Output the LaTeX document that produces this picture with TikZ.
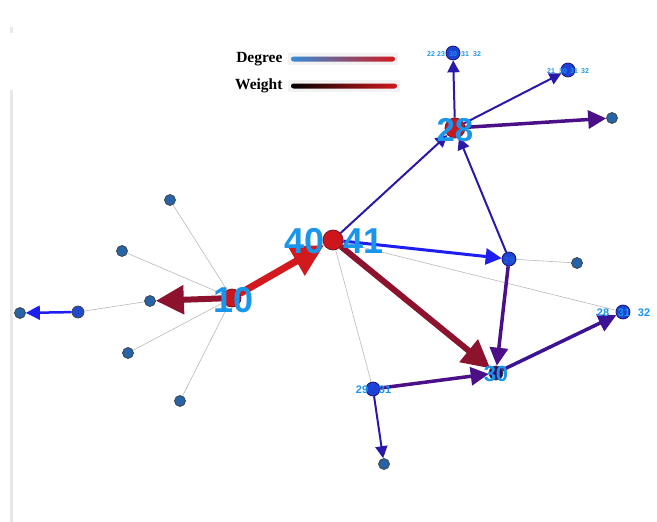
\documentclass[tikz,border=0pt]{standalone}
\usepackage{fontspec}
\setmainfont{Liberation Serif}
\setsansfont{Liberation Sans}
\usetikzlibrary{arrows.meta,backgrounds}

\definecolor{lblblue}{RGB}{25,150,235}
\definecolor{hubred}{RGB}{205,22,28}
\definecolor{edgered}{RGB}{210,25,30}
\definecolor{darkred}{RGB}{140,18,45}
\definecolor{purp}{RGB}{75,15,135}
\definecolor{navy}{RGB}{40,25,170}
\definecolor{brightblue}{RGB}{30,30,240}
\definecolor{leafblue}{RGB}{40,100,165}
\definecolor{nodeblue}{RGB}{30,65,215}
\definecolor{degstart}{RGB}{55,140,215}

\tikzset{
  vert/.style={circle,draw=black!75,line width=0.7pt,inner sep=0pt,minimum size=#1},
  leaf/.style={vert=11pt,fill=leafblue},
  hub/.style={vert=20pt,fill=hubred,draw=darkred!80!black},
  midnode/.style={vert=14pt,fill=nodeblue,draw=navy!60!black},
  biglbl/.style={text=lblblue,font=\sffamily\bfseries\fontsize{#1}{#1}\selectfont,inner sep=0pt},
  smalllbl/.style={text=lblblue,font=\sffamily\bfseries\fontsize{#1}{#1}\selectfont,inner sep=0pt},
  weak/.style={draw=gray!55,line width=0.6pt},
  arr/.style={line width=#1,-{Triangle[length=4*#1+4pt,width=4*#1+4pt]}},
}

\begin{document}
\begin{tikzpicture}[x=1pt,y=-1pt]
\useasboundingbox (0,0) rectangle (657,522);
\draw[gray!18,line width=3pt] (11,90) -- (11,522);
\draw[gray!18,line width=3pt] (11,27) -- (11,33);

% legend
\node[font=\bfseries\fontsize{15.5}{17}\selectfont,anchor=east] (degtxt) at (286,59) {Degree};
\node[font=\bfseries\fontsize{15.5}{17}\selectfont,anchor=east] (wgttxt) at (286,86) {Weight};
\fill[gray!10] (288,53) rectangle (398,65);
\fill[gray!10] (288,80) rectangle (400,92);
\shade[left color=degstart,middle color=brightblue,right color=edgered,rounded corners=2.5pt] (291,56.5) rectangle (395,61.5);
\shade[left color=black,middle color=brightblue,right color=edgered,rounded corners=2.5pt] (291,83.5) rectangle (397,88.5);

% vertices
\node[hub] (c) at (333,240) {};
\node[hub,minimum size=18pt] (n10) at (232,298) {};
\node[hub] (n28) at (455,128) {};
\node[vert=14pt,fill=purp!70!black] (n30) at (496,373) {};
\node[midnode] (n29) at (509,259) {};
\node[midnode] (n31) at (623,312) {};
\node[midnode] (top) at (453,53) {};
\node[midnode] (topr) at (568,70) {};
\node[leaf] (r28) at (612,118) {};
\node[midnode] (n2931) at (373,389) {};
\node[leaf] (bot) at (384,464) {};
\node[leaf] (r29) at (577,263) {};
\node[leaf] (la) at (170,200) {};
\node[leaf] (lb) at (122,251) {};
\node[leaf] (lc) at (150,301) {};
\node[vert=12pt,fill=nodeblue!70!leafblue] (ld) at (78,312) {};
\node[leaf] (le) at (20,313) {};
\node[leaf] (lf) at (128,353) {};
\node[leaf] (lg) at (180,401) {};

% edges
\begin{pgfonlayer}{background}
\draw[weak] (n10) -- (la);
\draw[weak] (n10) -- (lb);
\draw[weak] (n10) -- (lf);
\draw[weak] (n10) -- (lg);
\draw[weak] (ld) -- (lc);
\draw[weak] (c) -- (n2931);
\draw[weak] (c) -- (n31);
\draw[weak] (n29) -- (r29);
\draw[arr=7pt,edgered] (n10) -- (c);
\draw[arr=6pt,darkred] (n10) -- (lc);
\draw[arr=6pt,darkred] (c) -- (n30);
\draw[arr=2.5pt,brightblue] (ld) -- (le);
\draw[arr=2pt,navy] (c) -- (n28);
\draw[arr=3pt,brightblue] (c) -- (n29);
\draw[arr=2pt,navy] (n28) -- (top);
\draw[arr=2pt,navy] (n28) -- (topr);
\draw[arr=3.5pt,purp] (n28) -- (r28);
\draw[arr=2pt,navy] (n29) -- (n28);
\draw[arr=3.5pt,purp] (n29) -- (n30);
\draw[arr=3.5pt,purp] (n2931) -- (n30);
\draw[arr=3.5pt,purp!60!navy] (n30) -- (n31);
\draw[arr=2pt,navy] (n2931) -- (bot);
\end{pgfonlayer}

% labels
\node[biglbl=36] (t40) at (305,241) {40};
\node[biglbl=36] (t41) at (364,241) {41};
\node[biglbl=36] (t10) at (234,300) {10};
\node[biglbl=33] (t28) at (455,130) {28};
\node[biglbl=22] (t30) at (496,374) {30};
\node[smalllbl=9,text=navy!40!lblblue] (t29) at (509,260) {29};
\node[smalllbl=11] (a28) at (603,313) {28};
\node[smalllbl=11] (a31) at (624,313) {31};
\node[smalllbl=11] (a32) at (644,313) {32};
\node[smalllbl=11] (b29) at (362,390) {29};
\node[smalllbl=11] (b31) at (385,390) {31};
\node[smalllbl=7] (c22) at (431,54) {22};
\node[smalllbl=7] (c23) at (441,54) {23};
\node[smalllbl=7] (c30) at (453,54) {30};
\node[smalllbl=7] (c31) at (465,54) {31};
\node[smalllbl=7] (c32) at (477,54) {32};
\node[smalllbl=7] (d21) at (551,71) {21};
\node[smalllbl=7] (d30) at (563,71) {30};
\node[smalllbl=7] (d31) at (574,71) {31};
\node[smalllbl=7] (d32) at (585,71) {32};
\end{tikzpicture}
\end{document}
